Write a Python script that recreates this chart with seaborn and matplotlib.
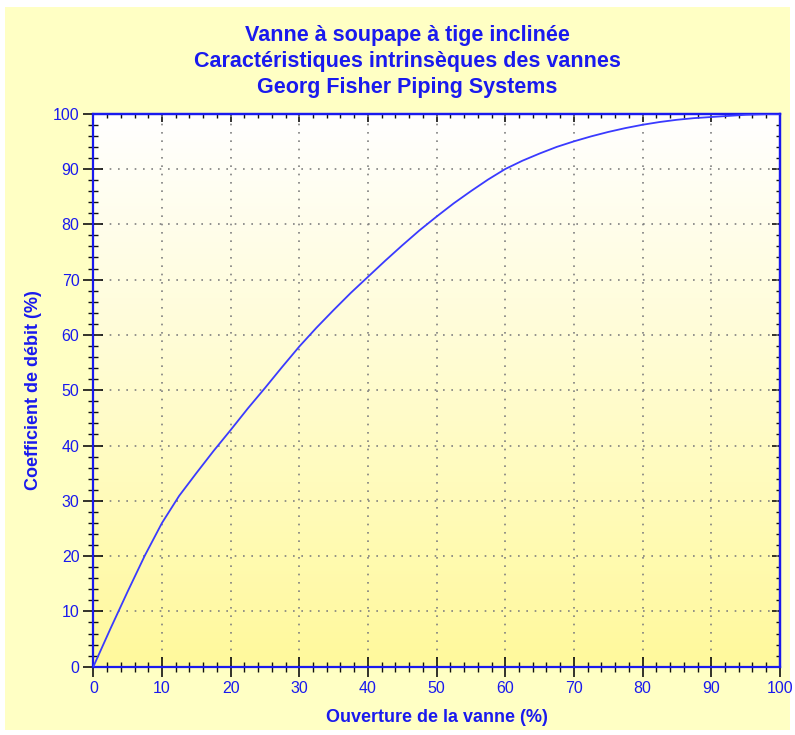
import numpy as np
import pandas as pd
import seaborn as sns
import matplotlib.pyplot as plt
from matplotlib.patches import Rectangle
from matplotlib.colors import LinearSegmentedColormap
from matplotlib.ticker import MultipleLocator

# Données
ouverture = [0, 2.5, 5, 7.5, 10, 12.5, 15, 17.5, 20, 22.5, 25, 27.5, 30, 32.5,
             35, 37.5, 40, 42.5, 45, 47.5, 50, 52.5, 55, 57.5, 60, 62.5, 65,
             67.5, 70, 72.5, 75, 77.5, 80, 82.5, 85, 87.5, 90, 92.5, 95, 97.5, 100]
coefficient = [0, 6.9, 13.6, 20.1, 26.0, 30.9, 35.0, 39.0, 42.8, 46.7, 50.4, 54.2,
               57.9, 61.3, 64.5, 67.6, 70.5, 73.4, 76.2, 78.9, 81.4, 83.8, 86,
               88.1, 90, 91.5, 92.8, 94, 95, 95.9, 96.7, 97.4, 98, 98.5, 98.9,
               99.2, 99.4, 99.6, 99.8, 99.9, 100]

titre = "Vanne à soupape à tige inclinée\nCaractéristiques intrinsèques des vannes\nGeorg Fisher Piping Systems"

df = pd.DataFrame({'Ouverture': ouverture, 'Coefficient': coefficient})

sns.set_style('white')
plt.rcParams['font.family'] = ['Liberation Sans', 'DejaVu Sans']

bleu = '#1a1aee'
fig = plt.figure(figsize=(7.95, 7.35), dpi=100, facecolor='white')
fig.patches.append(Rectangle((5 / 795, 5 / 735), 785 / 795, 723 / 735,
                             transform=fig.transFigure, facecolor='#ffffc4',
                             edgecolor='none', zorder=-10))

ax = fig.add_axes([0.1174, 0.0929, 0.8636, 0.7524])

# fond dégradé blanc -> jaune
cmap = LinearSegmentedColormap.from_list('deg', ['#fff99c', '#ffffff'])
grad = np.linspace(0, 1, 256).reshape(-1, 1)
ax.imshow(grad, extent=[0, 100, 0, 100], origin='lower', cmap=cmap,
          aspect='auto', zorder=0)

sns.lineplot(data=df, x='Ouverture', y='Coefficient', color='#3a3aff',
             linewidth=1.3, ax=ax, zorder=3)

ax.set_xlim(0, 100)
ax.set_ylim(0, 100)
ax.xaxis.set_major_locator(MultipleLocator(10))
ax.xaxis.set_minor_locator(MultipleLocator(2))
ax.yaxis.set_major_locator(MultipleLocator(10))
ax.yaxis.set_minor_locator(MultipleLocator(2))

ax.grid(True, which='major', color='#808080', linestyle=(0, (1, 4)), linewidth=1.2)
ax.tick_params(which='both', bottom=True, left=True)
ax.tick_params(which='major', direction='inout', length=14, width=1.2,
               color='#101010', labelcolor=bleu, labelsize=11.5, pad=3)
ax.tick_params(which='minor', direction='inout', length=7, width=1,
               color='#101010')

for s in ax.spines.values():
    s.set_color(bleu)
    s.set_linewidth(1.6)

# ticks haut et droite vers l'intérieur
top = ax.secondary_xaxis('top')
top.xaxis.set_major_locator(MultipleLocator(10))
top.xaxis.set_minor_locator(MultipleLocator(2))
top.tick_params(which='major', direction='in', length=6, width=1.2, color='#101010', labeltop=False)
top.tick_params(which='minor', direction='in', length=3, width=1, color='#101010')
top.spines['top'].set_color(bleu)
top.spines['top'].set_linewidth(1.6)
right = ax.secondary_yaxis('right')
right.yaxis.set_major_locator(MultipleLocator(10))
right.yaxis.set_minor_locator(MultipleLocator(2))
right.tick_params(which='major', direction='in', length=6, width=1.2, color='#101010', labelright=False)
right.tick_params(which='minor', direction='in', length=3, width=1, color='#101010')
right.spines['right'].set_color(bleu)
right.spines['right'].set_linewidth(1.6)

ax.set_xlabel('Ouverture de la vanne (%)', color=bleu, fontsize=13, fontweight='bold', labelpad=10)
ax.set_ylabel('Coefficient de débit (%)', color=bleu, fontsize=13, fontweight='bold', labelpad=8)

fig.text(0.512, 0.966, titre, ha='center', va='top', color=bleu, fontsize=15.5,
         fontweight='bold', linespacing=1.3)

fig.savefig('out.png', dpi=100, facecolor=fig.get_facecolor())
